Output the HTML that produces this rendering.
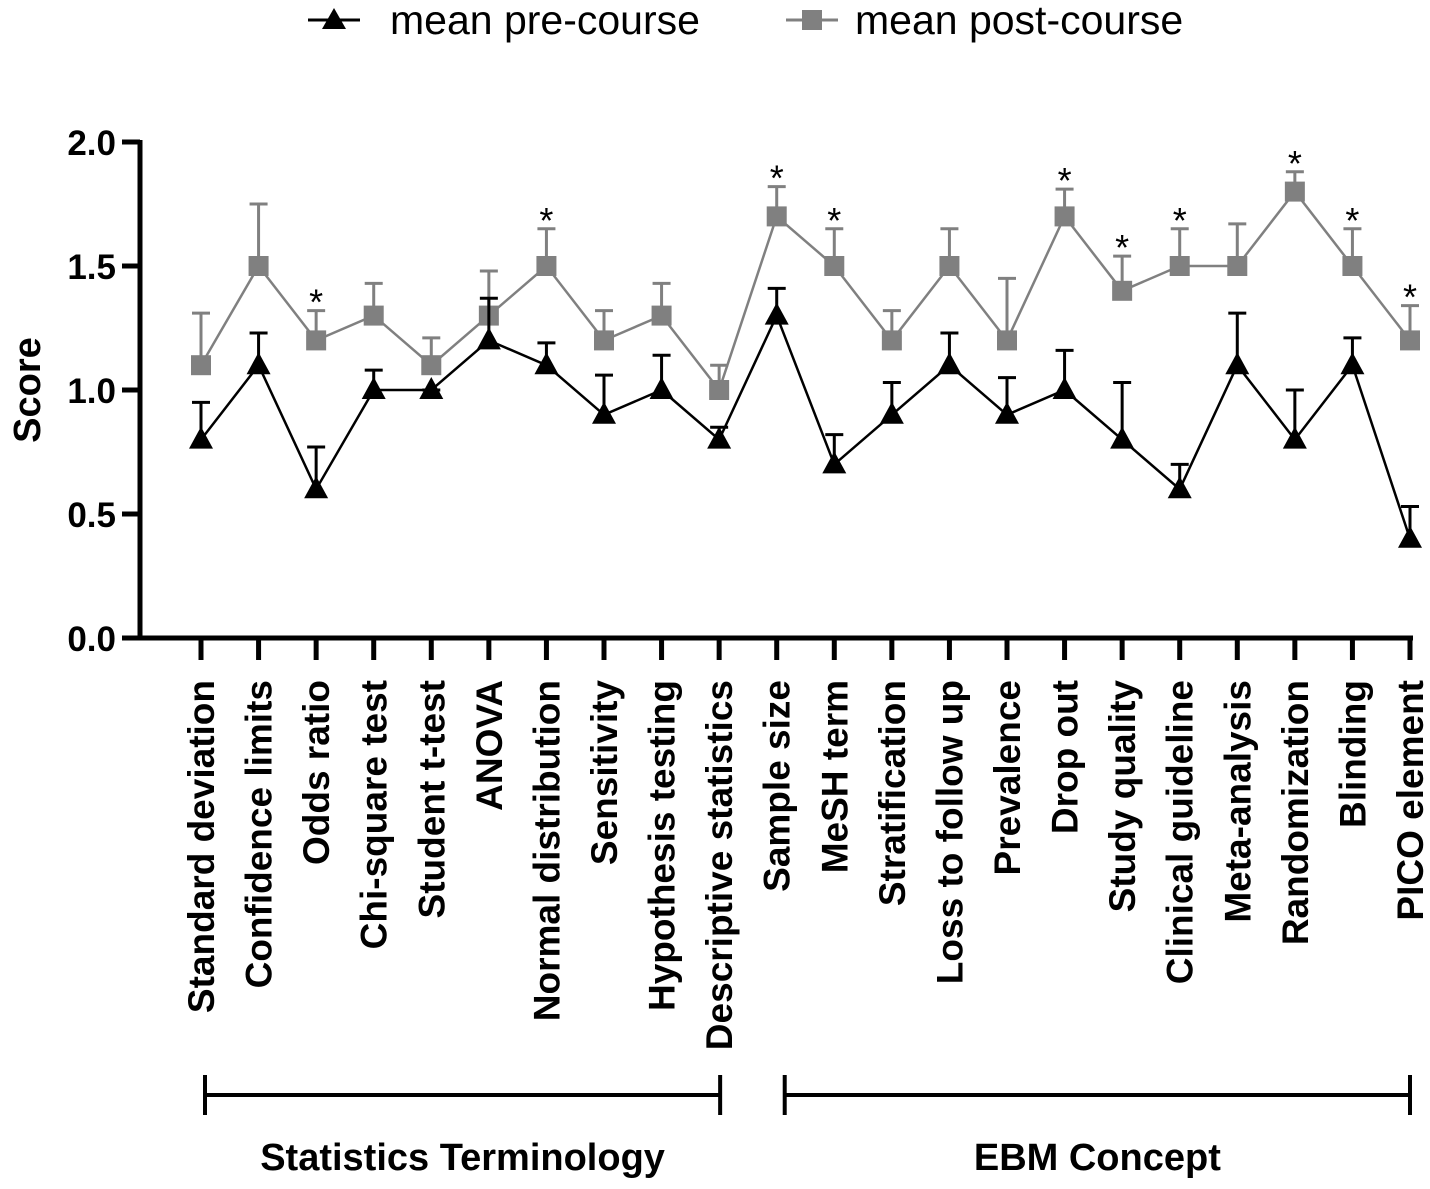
<!DOCTYPE html>
<html><head><meta charset="utf-8"><style>
body{margin:0;background:#fff;}
svg text{font-family:"Liberation Sans",Arial,sans-serif;}
</style></head><body>
<svg id="chart" width="1430" height="1184" viewBox="0 0 1430 1184" xmlns="http://www.w3.org/2000/svg">
<g>
 <g>
  <line x1="308" y1="20" x2="360" y2="20" stroke="#000" stroke-width="3"/>
  <polygon points="334,8 346,29 322,29" fill="#000"/>
  <text x="390" y="34" font-size="41">mean pre-course</text>
 </g>
 <g>
  <line x1="786" y1="20" x2="838" y2="20" stroke="#808080" stroke-width="3"/>
  <rect x="802" y="10" width="20" height="20" fill="#808080"/>
  <text x="855" y="34" font-size="41">mean post-course</text>
 </g>
</g>
<g id="plot"></g>
</svg>
<script>
const categories=["Standard deviation","Confidence limits","Odds ratio","Chi-square test","Student t-test","ANOVA","Normal distribution","Sensitivity","Hypothesis testing","Descriptive statistics","Sample size","MeSH term","Stratification","Loss to follow up","Prevalence","Drop out","Study quality","Clinical guideline","Meta-analysis","Randomization","Blinding","PICO element"];
const preMean=[0.8,1.1,0.6,1.0,1.0,1.2,1.1,0.9,1.0,0.8,1.3,0.7,0.9,1.1,0.9,1.0,0.8,0.6,1.1,0.8,1.1,0.4];
const preErr=[0.15,0.13,0.17,0.08,0.0,0.17,0.09,0.16,0.14,0.05,0.11,0.12,0.13,0.13,0.15,0.16,0.23,0.1,0.21,0.2,0.11,0.13];
const postMean=[1.1,1.5,1.2,1.3,1.1,1.3,1.5,1.2,1.3,1.0,1.7,1.5,1.2,1.5,1.2,1.7,1.4,1.5,1.5,1.8,1.5,1.2];
const postErr=[0.21,0.25,0.12,0.13,0.11,0.18,0.15,0.12,0.13,0.1,0.12,0.15,0.12,0.15,0.25,0.11,0.14,0.15,0.17,0.08,0.15,0.14];
const significant=[0,0,1,0,0,0,1,0,0,0,1,1,0,0,0,1,1,1,0,1,1,1];
const yTicks=[0,0.5,1.0,1.5,2.0];
const yTickLabels=["0.0","0.5","1.0","1.5","2.0"];
const groups=["Statistics Terminology","EBM Concept"];
const groupStart=[0,10], groupEnd=[9,21];

const NS="http://www.w3.org/2000/svg";
const plot=document.getElementById('plot');
const x0=201,x1=1410,yTop=142,yBot=638;
const xS=i=>x0+i*(x1-x0)/(categories.length-1);
const yS=v=>yBot-(v/2)*(yBot-yTop);
function mk(tag,attrs,parent){const e=document.createElementNS(NS,tag);for(const k in attrs)e.setAttribute(k,attrs[k]);(parent||plot).appendChild(e);return e;}

const ya=mk('line',{x1:140,y1:yTop-2,x2:140,y2:yBot+2,stroke:'#000','stroke-width':5});


const xa=mk('line',{x1:138,y1:yBot,x2:x1+3,y2:yBot,stroke:'#000','stroke-width':5});


yTicks.forEach((v,i)=>{
 const t=mk('line',{x1:122,y1:yS(v),x2:140,y2:yS(v),stroke:'#000','stroke-width':5});
 
 
 const l=mk('text',{x:116,y:yS(v)+13,'text-anchor':'end','font-size':35,'font-weight':'bold'});
 l.textContent=yTickLabels[i];
 
 
});
const yt=mk('text',{x:0,y:0,transform:'translate(40,390) rotate(-90)','text-anchor':'middle','font-size':38,'font-weight':'bold'});
yt.textContent='Score';



categories.forEach((c,i)=>{
 const t=mk('line',{x1:xS(i),y1:yBot,x2:xS(i),y2:660,stroke:'#000','stroke-width':5});
 
 
 const l=mk('text',{x:0,y:0,transform:`translate(${xS(i)+13},680) rotate(-90)`,'text-anchor':'end','font-size':37,'font-weight':'bold'});
 l.textContent=c;
 
 
});

function series(mean,err,color,name,marker){
 const pts=mean.map((v,i)=>xS(i)+','+yS(v)).join(' ');
 mean.forEach((v,i)=>{
  const top=yS(v+err[i]);
  const e=mk('path',{d:`M${xS(i)},${yS(v)}V${top}M${xS(i)-9},${top}H${xS(i)+9}`,stroke:color,'stroke-width':3,fill:'none'});
  
  
 });
 const ln=mk('polyline',{points:pts,fill:'none',stroke:color,'stroke-width':2.5});
 
 
 mean.forEach((v,i)=>{
  const cx=xS(i),cy=yS(v);let m;
  if(marker==='tri')m=mk('polygon',{points:`${cx},${cy-13} ${cx+12},${cy+9} ${cx-12},${cy+9}`,fill:color});
  else m=mk('rect',{x:cx-10,y:cy-10,width:20,height:20,fill:color});
  
  
 });
}
series(postMean,postErr,'#808080','post-course','sq');
series(preMean,preErr,'#000','pre-course','tri');

significant.forEach((s,i)=>{
 if(!s)return;
 const t=mk('text',{x:xS(i),y:yS(postMean[i]+postErr[i])+4,'text-anchor':'middle','font-size':36});
 t.textContent='*';
 
 
});

const bracketPad=[[4,1],[8,0]];
groups.forEach((g,k)=>{
 const a=xS(groupStart[k])+bracketPad[k][0],b=xS(groupEnd[k])+bracketPad[k][1];
 const br=mk('path',{d:`M${a},1095H${b}M${a},1075V1115M${b},1075V1115`,stroke:'#000','stroke-width':4,fill:'none'});
 
 
 const t=mk('text',{x:(a+b)/2,y:1170,'text-anchor':'middle','font-size':38,'font-weight':'bold'});
 t.textContent=g;
 
 
});
</script>
</body></html>
